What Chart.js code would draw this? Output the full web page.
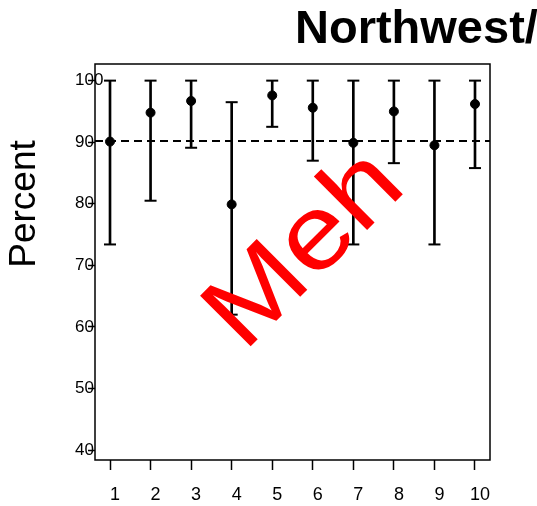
<!DOCTYPE html>
<html>
<head>
<meta charset="utf-8">
<script src="https://cdn.jsdelivr.net/npm/chart.js@4/dist/chart.umd.min.js"></script>
<style>
  html, body { margin: 0; padding: 0; background: #fff; }
  #wrap { width: 537px; height: 506px; }
</style>
</head>
<body>
<div id="wrap"><canvas id="chart" width="537" height="506"></canvas></div>
<script>
// valeurs
const groups = [1, 2, 3, 4, 5, 6, 7, 8, 9, 10];
const percent = [90.1, 94.8, 96.7, 79.9, 97.6, 95.6, 89.9, 95.0, 89.5, 96.2];
const lower = [73.4, 80.5, 89.1, 62.0, 92.5, 87.0, 73.4, 86.6, 73.4, 85.8];
const upper = [100, 100, 100, 96.5, 100, 100, 100, 100, 100, 100];
const overall = 90.2;
const yTicks = [40, 50, 60, 70, 80, 90, 100];
const xRange = [0.63, 10.37];
const yRange = [38.4, 102.7];

const FONT = '"Liberation Sans", Arial, sans-serif';

// cadre, titres et le gros "Meh"
const decorations = {
    id: 'decorations',
    afterDraw(chart) {
        const { ctx, chartArea: a } = chart;
        ctx.save();
        ctx.strokeStyle = '#000';
        ctx.lineWidth = 1.5;
        ctx.strokeRect(a.left, a.top, a.right - a.left, a.bottom - a.top);

        ctx.fillStyle = '#000';
        ctx.font = 'bold 47px ' + FONT;
        ctx.textAlign = 'left';
        ctx.textBaseline = 'alphabetic';
        ctx.fillText('Northwest/West', 295, 43);

        ctx.save();
        ctx.translate(25, 204);
        ctx.rotate(-Math.PI / 2);
        ctx.font = '37px ' + FONT;
        ctx.textAlign = 'center';
        ctx.textBaseline = 'middle';
        ctx.fillText('Percent', 0, 0);
        ctx.restore();

        ctx.save();
        ctx.translate(326, 271);
        ctx.rotate(-Math.PI / 4);
        ctx.scale(1.15, 1);
        ctx.font = '104px ' + FONT;
        ctx.fillStyle = '#ff0000';
        ctx.textAlign = 'center';
        ctx.textBaseline = 'alphabetic';
        ctx.fillText('Meh', 0, 0);
        ctx.restore();

        ctx.restore();
    }
};

new Chart(document.getElementById('chart'), {
    type: 'scatter',
    data: {
        datasets: [
            {
                type: 'scatter',
                data: groups.map((g, i) => ({ x: g, y: percent[i] })),
                backgroundColor: '#000',
                borderColor: '#000',
                pointRadius: 4.5,
                borderWidth: 1,
                order: 0
            },
            {
                type: 'scatter',
                data: groups.map((g, i) => ({ x: g, y: upper[i] }))
                    .concat(groups.map((g, i) => ({ x: g, y: lower[i] }))),
                pointStyle: 'line',
                pointRadius: 6,
                borderColor: '#000',
                borderWidth: 2,
                order: 1
            },
            {
                type: 'bar',
                data: groups.map((g, i) => ({ x: g, y: [lower[i], upper[i]] })),
                backgroundColor: '#000',
                borderWidth: 0,
                barThickness: 2,
                order: 2
            },
            {
                type: 'line',
                data: [{ x: xRange[0], y: overall }, { x: xRange[1], y: overall }],
                borderColor: '#000',
                borderWidth: 2,
                borderDash: [8, 5],
                pointRadius: 0,
                order: 3
            }
        ]
    },
    options: {
        responsive: false,
        animation: false,
        layout: { padding: { left: 75, right: 47, top: 64, bottom: 0 } },
        plugins: {
            legend: { display: false },
            tooltip: { enabled: false }
        },
        scales: {
            x: {
                type: 'linear',
                min: xRange[0],
                max: xRange[1],
                offset: false,
                afterBuildTicks: scale => { scale.ticks = groups.map(v => ({ value: v })); },
                afterFit: scale => { scale.height = 46; },
                grid: { display: true, offset: false, drawOnChartArea: false, drawTicks: true, tickLength: 10, tickColor: '#000', tickWidth: 1.5 },
                border: { display: false },
                ticks: {
                    color: '#000',
                    font: { family: FONT, size: 18 },
                    padding: 14,
                    labelOffset: 5,
                    maxRotation: 0,
                    autoSkip: false
                }
            },
            y: {
                type: 'linear',
                min: yRange[0],
                max: yRange[1],
                beginAtZero: false,
                afterBuildTicks: scale => { scale.ticks = yTicks.map(v => ({ value: v })); },
                afterFit: scale => { scale.width = 20; },
                grid: { display: true, drawOnChartArea: false, drawTicks: true, tickLength: 7, tickColor: '#000', tickWidth: 1.5 },
                border: { display: false },
                ticks: {
                    color: '#000',
                    font: { family: FONT, size: 17 },
                    mirror: true,
                    padding: -20,
                    autoSkip: false
                }
            }
        }
    },
    plugins: [decorations]
});
</script>
</body>
</html>
